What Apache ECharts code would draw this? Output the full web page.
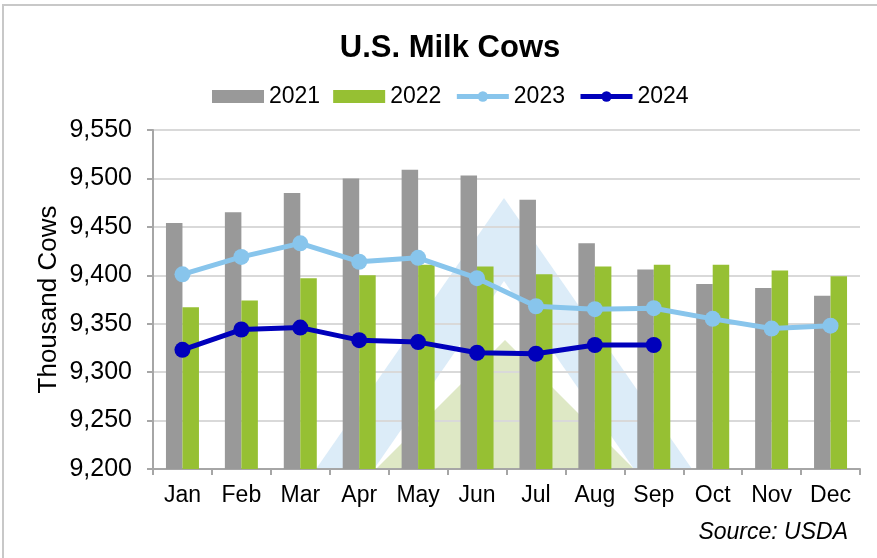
<!DOCTYPE html>
<html>
<head>
<meta charset="utf-8">
<script src="https://cdn.jsdelivr.net/npm/echarts@6/dist/echarts.min.js"></script>
<style>
html,body{margin:0;padding:0;background:#fff;}
#chart{width:877px;height:558px;}
</style>
</head>
<body>
<div id="chart"></div>
<script>
const months = ['Jan','Feb','Mar','Apr','May','Jun','Jul','Aug','Sep','Oct','Nov','Dec'];
const y2021 = [9454, 9465, 9485, 9500, 9509, 9503, 9478, 9433, 9406, 9391, 9387, 9379];
const y2022 = [9367, 9374, 9397, 9400, 9411, 9409, 9401, 9409, 9411, 9411, 9405, 9399];
const y2023 = [9401, 9419, 9433, 9414, 9418, 9397, 9368, 9365, 9366, 9355, 9345, 9348];
const y2024 = [9323, 9344, 9346, 9333, 9331, 9320, 9319, 9328, 9328, null, null, null];
const yMin = 9200, yMax = 9550, yStep = 50;

const FONT = '"Liberation Sans", Arial, sans-serif';
const chart = echarts.init(document.getElementById('chart'), null, {renderer: 'canvas'});

const option = {
  backgroundColor: '#ffffff',
  animation: false,
  title: {
    text: 'U.S. Milk Cows',
    left: 445,
    textAlign: 'center',
    top: 28,
    textStyle: {fontFamily: FONT, fontSize: 31, fontWeight: 'bold', color: '#000'}
  },
  legend: {
    data: [
      {name: '2021', icon: 'rect'},
      {name: '2022', icon: 'rect'},
      {name: '2023'},
      {name: '2024'}
    ],
    left: 207,
    top: 80,
    itemWidth: 52,
    itemHeight: 13,
    itemGap: 13,
    lineStyle: {width: 5},
    textStyle: {fontFamily: FONT, fontSize: 23, color: '#000', padding: [0,0,0,0]}
  },
  grid: {left: 153, right: 17, top: 130, bottom: 89, containLabel: false, outerBoundsMode: 'none'},
  xAxis: {
    type: 'category',
    data: months,
    boundaryGap: true,
    axisLine: {show: true, lineStyle: {color: '#a6a6a6', width: 2}},
    axisTick: {show: true, length: 6, alignWithLabel: false, lineStyle: {color: '#a6a6a6', width: 2}},
    axisLabel: {fontFamily: FONT, fontSize: 23, color: '#000', margin: 15, interval: 0, hideOverlap: false}
  },
  yAxis: {
    type: 'value',
    min: yMin, max: yMax, interval: yStep,
    name: 'Thousand Cows',
    nameLocation: 'middle',
    nameGap: 91,
    nameMoveOverlap: false,
    nameTextStyle: {fontFamily: FONT, fontSize: 26, color: '#000'},
    axisLine: {show: true, lineStyle: {color: '#a6a6a6', width: 2}},
    axisTick: {show: true, length: 6, lineStyle: {color: '#a6a6a6', width: 2}},
    axisLabel: {fontFamily: FONT, fontSize: 25, color: '#000', margin: 21,
      formatter: v => v.toLocaleString('en-US')},
    splitLine: {show: true, lineStyle: {color: '#d9d9d9', width: 2}}
  },
  graphic: [
    {type: 'rect', z: 100, silent: true, shape: {x: 3, y: 5, width: 920, height: 620},
     style: {fill: 'none', stroke: '#c8c8c8', lineWidth: 2}},
    {type: 'polygon', z: -10, silent: true,
     shape: {points: [[504,198],[692,469],[316,469]]},
     style: {fill: '#dcecf8'}},
    {type: 'polygon', z: -9, silent: true,
     shape: {points: [[504,281],[634,469],[374,469]]},
     style: {fill: '#ffffff'}},
    {type: 'polygon', z: -8, silent: true,
     shape: {points: [[505,340],[634,469],[376,469]]},
     style: {fill: '#dee8c5'}},
    {type: 'text', z: 100, silent: true, x: 848, y: 533,
     style: {text: 'Source: USDA', fontFamily: FONT, fontSize: 23, fontStyle: 'italic',
       fill: '#000', textAlign: 'right', textVerticalAlign: 'middle'}}
  ],
  series: [
    {name: '2021', type: 'bar', data: y2021, barWidth: 16.5, barGap: '0%',
     itemStyle: {color: '#999999'}, z: 2},
    {name: '2022', type: 'bar', data: y2022, barWidth: 16.5, barGap: '0%',
     itemStyle: {color: '#96c033'}, z: 2},
    {name: '2023', type: 'line', data: y2023, symbol: 'circle', symbolSize: 16,
     lineStyle: {color: '#88c5ec', width: 5}, itemStyle: {color: '#88c5ec'}, z: 3},
    {name: '2024', type: 'line', data: y2024, symbol: 'circle', symbolSize: 16,
     lineStyle: {color: '#0000bb', width: 5}, itemStyle: {color: '#0000bb'}, z: 4}
  ]
};
chart.setOption(option);
</script>
</body>
</html>
